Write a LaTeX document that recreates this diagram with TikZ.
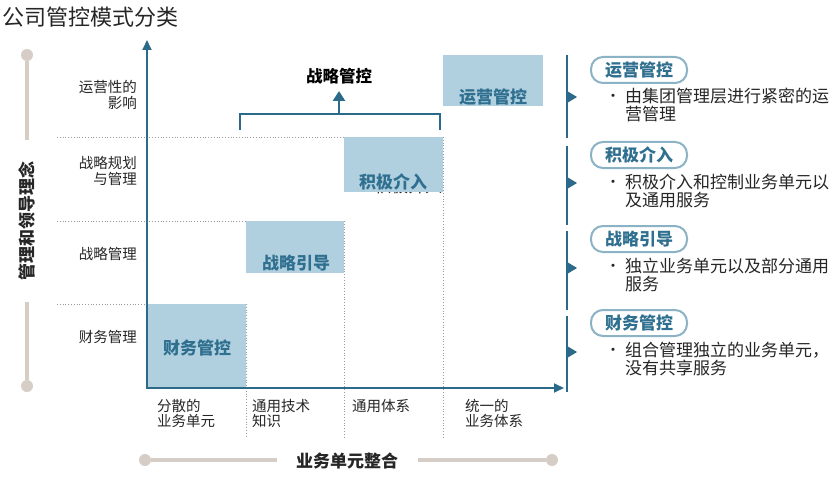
\documentclass[tikz,border=0pt]{standalone}
\usepackage{fontspec}
\setmainfont{Noto Sans CJK SC}
\usetikzlibrary{arrows.meta,calc}
\definecolor{axisc}{HTML}{2B6A88}
\definecolor{boxc}{HTML}{B1D0DF}
\definecolor{boxtxt}{HTML}{2F6F8F}
\definecolor{beige}{HTML}{D6CDC6}
\definecolor{pillc}{HTML}{8BB3C5}
\definecolor{gridc}{HTML}{9A9A9A}
\definecolor{txt}{HTML}{262626}
\begin{document}
\begin{tikzpicture}[x=1pt,y=-1pt,
  axisline/.style={draw=axisc,line width=2pt,-{Triangle[width=9pt,length=10pt]}},
  gridline/.style={draw=gridc,line width=0.8pt,dotted},
  cellbox/.style={fill=boxc,inner sep=0pt,outer sep=0pt,anchor=north west},
  celltext/.style={text=boxtxt,font=\fontsize{17}{18}\selectfont\bfseries},
  rowlab/.style={text=txt,anchor=east,align=right,inner sep=0pt,font=\fontsize{14.5}{15.5}\selectfont},
  collab/.style={text=txt,anchor=north west,align=left,inner sep=0pt,font=\fontsize{14.5}{15.5}\selectfont},
  beigeline/.style={draw=beige,line width=3.5pt},
  beigedot/.style={fill=beige,circle,inner sep=0pt,minimum size=12pt},
  pill/.style={draw=pillc,line width=2pt,rounded corners=12pt,minimum width=96pt,minimum height=26pt,inner sep=0pt,text=boxtxt,font=\fontsize{17}{18}\selectfont\bfseries},
  bultext/.style={text=txt,anchor=north west,align=left,inner sep=0pt,font=\fontsize{17}{18}\selectfont},
  sidebar/.style={draw=axisc,line width=2pt},
  sidetri/.style={fill=axisc},
  boldlab/.style={text=black,font=\fontsize{16.5}{18}\selectfont\bfseries}
]
\useasboundingbox (0,0) rectangle (835,484);
\fill[white] (0,0) rectangle (835,484);

% title
\node[anchor=west,inner sep=0pt,text=txt,font=\fontsize{22}{24}\selectfont] (title) at (2,17) {公司管控模式分类};

% grid (staircase)
\coordinate (g1l) at (57,137); \coordinate (g1r) at (344,137);
\coordinate (g2l) at (57,221); \coordinate (g2r) at (246,221);
\coordinate (g3l) at (57,304); \coordinate (g3r) at (147,304);
\draw[gridline] (g1l) -- (g1r);
\draw[gridline] (g2l) -- (g2r);
\draw[gridline] (g3l) -- (g3r);
\coordinate (v1t) at (246,304); \coordinate (v1b) at (246,437);
\coordinate (v2t) at (344,221); \coordinate (v2b) at (344,437);
\coordinate (v3t) at (443,137); \coordinate (v3b) at (443,437);
\draw[gridline] (v1t) -- (v1b);
\draw[gridline] (v2t) -- (v2b);
\draw[gridline] (v3t) -- (v3b);

% ghost text under box
\node[text=txt,font=\fontsize{17}{18}\selectfont] (ghost) at (408,186) {积极介入};

% cells
\node[cellbox,minimum width=99pt,minimum height=84pt] (b1) at (147,304) {};
\node[cellbox,minimum width=98pt,minimum height=52pt] (b2) at (246,221) {};
\node[cellbox,minimum width=99pt,minimum height=55pt] (b3) at (344,137) {};
\node[cellbox,minimum width=100pt,minimum height=51pt] (b4) at (443,55) {};
\node[celltext] (t1) at (197,348) {财务管控};
\node[celltext] (t2) at (296,263) {战略引导};
\node[celltext] (t3) at (393,182) {积极介入};
\node[celltext] (t4) at (493,97) {运营管控};

% axes
\coordinate (O) at (147,388);
\coordinate (Ox) at (146,388);
\coordinate (Ytip) at (147,40);
\coordinate (Xtip) at (564,388);
\draw[axisline] (O) -- (Ytip);
\draw[axisline] (Ox) -- (Xtip);

% row labels
\node[rowlab] (r4) at (137,95) {运营性的\\影响};
\node[rowlab] (r3) at (137,171) {战略规划\\与管理};
\node[rowlab] (r2) at (137,254) {战略管理};
\node[rowlab] (r1) at (137,337) {财务管理};

% column labels
\node[collab] (c1) at (157,399) {分散的\\业务单元};
\node[collab] (c2) at (252,399) {通用技术\\知识};
\node[collab] (c3) at (352,399) {通用体系};
\node[collab] (c4) at (465,399) {统一的\\业务体系};

% bracket
\coordinate (brl) at (240,130); \coordinate (brr) at (440,130);
\coordinate (brm) at (339,114); \coordinate (brtip) at (339,91);
\draw[draw=axisc,line width=2.5pt] (brl) |- (brm) -| (brr);
\draw[draw=axisc,line width=2.5pt,-{Triangle[width=12pt,length=10pt]}] (brm) -- (brtip);
\node[boldlab] (sg) at (339,76) {战略管控};

% left beige axis
\node[beigedot] (ld1) at (27,55) {};
\node[beigedot] (ld2) at (27,386) {};
\coordinate (lt) at (27,140); \coordinate (lb) at (27,302);
\draw[beigeline] (ld1) -- (lt);
\draw[beigeline] (lb) -- (ld2);
\node[rotate=90,text=txt,font=\fontsize{17}{18}\selectfont\bfseries] (lv) at (27,221) {管理和领导理念};

% bottom beige axis
\node[beigedot] (bd1) at (145,460) {};
\node[beigedot] (bd2) at (552,460) {};
\coordinate (bl) at (277,460); \coordinate (brb) at (418,460);
\draw[beigeline] (bd1) -- (bl);
\draw[beigeline] (brb) -- (bd2);
\node[text=txt,font=\fontsize{17}{18}\selectfont\bfseries] (bx) at (347,461) {业务单元整合};

% right side bars
\foreach \a/\b/\m in {55/138/97, 146/225/183, 231/310/268, 316/392/352}{
  \draw[sidebar] (567,\a) -- (567,\b);
  \fill[sidetri] (567,\m-6) -- (577,\m) -- (567,\m+6) -- cycle;
}

% pills
\node[pill] (p4) at (639,70) {运营管控};
\node[pill] (p3) at (639,155) {积极介入};
\node[pill] (p2) at (639,239) {战略引导};
\node[pill] (p1) at (639,323) {财务管控};

% bullets
\foreach \y/\n in {98/4,184/3,268/2,352/1}{
  \node[text=txt,font=\fontsize{15}{18}\selectfont] (bul\n) at (613,\y) {•};
}
\node[bultext] (d4) at (625,88) {由集团管理层进行紧密的运\\营管理};
\node[bultext] (d3) at (625,174) {积极介入和控制业务单元以\\及通用服务};
\node[bultext] (d2) at (625,258) {独立业务单元以及部分通用\\服务};
\node[bultext] (d1) at (625,342) {组合管理独立的业务单元，\\没有共享服务};
\end{tikzpicture}
\end{document}
